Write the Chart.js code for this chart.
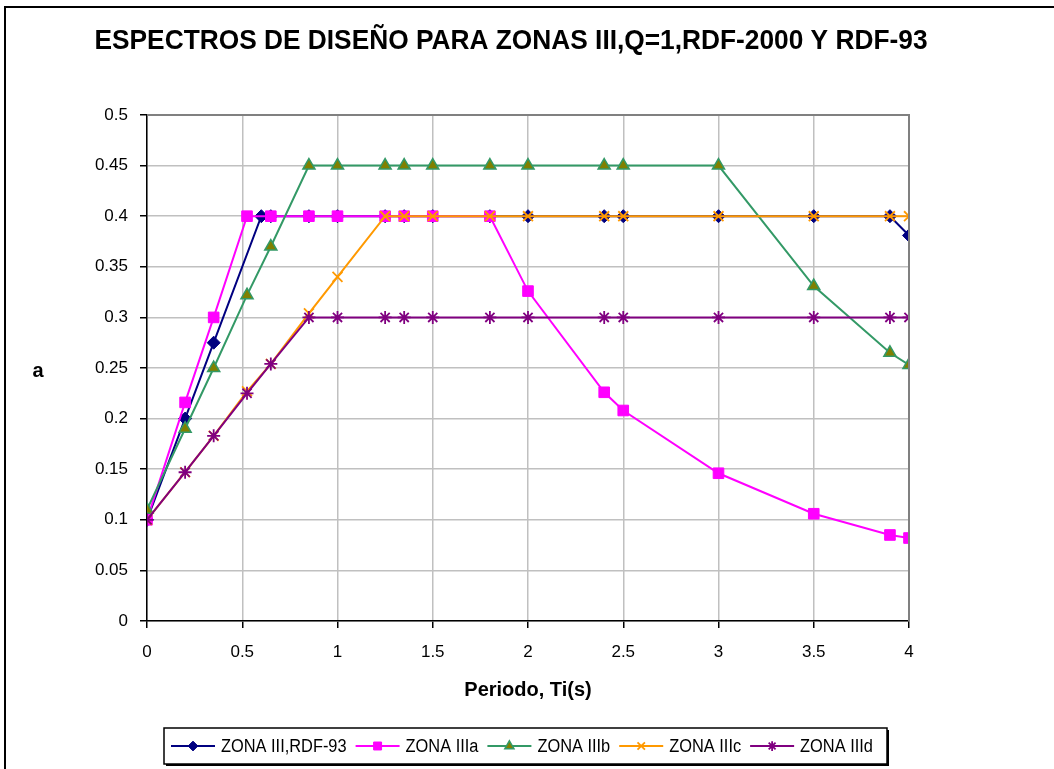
<!DOCTYPE html>
<html>
<head>
<meta charset="utf-8">
<script src="https://cdn.jsdelivr.net/npm/chart.js@4/dist/chart.umd.min.js"></script>
<style>
  html, body { margin: 0; padding: 0; background: #fff; }
  #wrap { width: 1054px; height: 769px; position: relative; }
</style>
</head>
<body>
<div id="wrap"><canvas id="spectra" width="1054" height="769"></canvas></div>
<script>
// Periods (s) and spectral ordinates
const periodsRdf93 = [0, 0.2, 0.35, 0.6, 0.65, 0.85, 1.0, 1.25, 1.35, 1.5, 1.8, 2.0, 2.4, 2.5, 3.0, 3.5, 3.9, 4.0];
const valuesRdf93 = [0.1, 0.2, 0.275, 0.4, 0.4, 0.4, 0.4, 0.4, 0.4, 0.4, 0.4, 0.4, 0.4, 0.4, 0.4, 0.4, 0.4, 0.381];

const periodsZonaA = [0, 0.2, 0.35, 0.525, 0.65, 0.85, 1.0, 1.25, 1.35, 1.5, 1.8, 2.0, 2.4, 2.5, 3.0, 3.5, 3.9, 4.0];
const valuesZonaA = [0.1, 0.216, 0.3, 0.4, 0.4, 0.4, 0.4, 0.4, 0.4, 0.4, 0.4, 0.326, 0.226, 0.208, 0.146, 0.106, 0.085, 0.082];

const periodsZonaB = [0, 0.2, 0.35, 0.525, 0.65, 0.85, 1.0, 1.25, 1.35, 1.5, 1.8, 2.0, 2.4, 2.5, 3.0, 3.5, 3.9, 4.0];
const valuesZonaB = [0.11, 0.19, 0.25, 0.322, 0.37, 0.45, 0.45, 0.45, 0.45, 0.45, 0.45, 0.45, 0.45, 0.45, 0.45, 0.331, 0.265, 0.253];

const periodsZonaC = [0, 0.2, 0.35, 0.525, 0.65, 0.85, 1.0, 1.25, 1.35, 1.5, 1.8, 2.0, 2.4, 2.5, 3.0, 3.5, 3.9, 4.0];
const valuesZonaC = [0.1, 0.147, 0.183, 0.227, 0.254, 0.304, 0.34, 0.4, 0.4, 0.4, 0.4, 0.4, 0.4, 0.4, 0.4, 0.4, 0.4, 0.4];

const periodsZonaD = [0, 0.2, 0.35, 0.525, 0.65, 0.85, 1.0, 1.25, 1.35, 1.5, 1.8, 2.0, 2.4, 2.5, 3.0, 3.5, 3.9, 4.0];
const valuesZonaD = [0.1, 0.147, 0.183, 0.225, 0.254, 0.3, 0.3, 0.3, 0.3, 0.3, 0.3, 0.3, 0.3, 0.3, 0.3, 0.3, 0.3, 0.3];

const seriesLabels = ['ZONA III,RDF-93', 'ZONA IIIa', 'ZONA IIIb', 'ZONA IIIc', 'ZONA IIId'];

const chartTitle = 'ESPECTROS DE DISEÑO PARA ZONAS III,Q=1,RDF-2000 Y RDF-93';
const xTitle = 'Periodo, Ti(s)';
const yTitle = 'a';

function toPoints(xs, ys) {
    return xs.map((x, i) => ({ x: x, y: ys[i] }));
}

// draws text squeezed horizontally, like the stretched Excel export
function squeezedText(ctx, text, x, y, sx) {
    ctx.save();
    ctx.translate(x, y);
    ctx.scale(sx, 1);
    ctx.fillText(text, 0, 0);
    ctx.restore();
}

// Titles, plot frame and outer border (Excel look)
const decorPlugin = {
    id: 'decor',
    beforeDraw(chart) {
        const ctx = chart.ctx;
        ctx.save();
        ctx.fillStyle = '#fff';
        ctx.fillRect(0, 0, chart.width, chart.height);
        ctx.strokeStyle = '#000';
        ctx.lineWidth = 2;
        ctx.beginPath();
        ctx.moveTo(5, chart.height + 5);
        ctx.lineTo(5, 7);
        ctx.lineTo(chart.width + 5, 7);
        ctx.stroke();
        ctx.restore();
    },
    afterDatasetsDraw(chart) {
        const ctx = chart.ctx;
        const a = chart.chartArea;
        ctx.save();
        // top and right frame of the plot area
        ctx.strokeStyle = '#808080';
        ctx.lineWidth = 2;
        ctx.beginPath();
        ctx.moveTo(a.left, a.top);
        ctx.lineTo(a.right, a.top);
        ctx.lineTo(a.right, a.bottom);
        ctx.stroke();

        ctx.fillStyle = '#000';
        ctx.textAlign = 'center';
        ctx.textBaseline = 'middle';
        ctx.font = 'bold 28px "Liberation Sans", Arial, sans-serif';
        const tw = ctx.measureText(chartTitle).width;
        squeezedText(ctx, chartTitle, 511, 41, 833 / tw);

        ctx.font = 'bold 20px "Liberation Sans", Arial, sans-serif';
        ctx.fillText(xTitle, 528, 690);
        ctx.fillText(yTitle, 38, 371);
        ctx.restore();
    }
};

// Legend box: line segment + marker, then the label
const legendPlugin = {
    id: 'excelLegend',
    afterDraw(chart) {
        const ctx = chart.ctx;
        const boxL = 164, boxT = 728, boxR = 887, boxB = 764;
        ctx.save();
        ctx.fillStyle = '#000';
        ctx.fillRect(boxL + 2, boxT + 2, boxR - boxL, boxB - boxT);
        ctx.fillStyle = '#fff';
        ctx.fillRect(boxL, boxT, boxR - boxL, boxB - boxT);
        ctx.strokeStyle = '#000';
        ctx.lineWidth = 1.5;
        ctx.strokeRect(boxL, boxT, boxR - boxL, boxB - boxT);

        ctx.font = '18px "Liberation Sans", Arial, sans-serif';
        ctx.textBaseline = 'middle';
        ctx.textAlign = 'left';
        const sx = 0.91;
        const cy = (boxT + boxB) / 2;
        let x = 171;
        chart.data.datasets.forEach((ds) => {
            ctx.strokeStyle = ds.borderColor;
            ctx.lineWidth = 2;
            ctx.beginPath();
            ctx.moveTo(x, cy);
            ctx.lineTo(x + 44, cy);
            ctx.stroke();
            ctx.fillStyle = ds.pointBackgroundColor;
            ctx.strokeStyle = ds.pointBorderColor;
            ctx.lineWidth = ds.pointBorderWidth;
            Chart.helpers.drawPoint(ctx, {
                pointStyle: ds.pointStyle,
                radius: ds.pointRadius * 0.75,
                rotation: 0,
                borderWidth: ds.pointBorderWidth
            }, x + 22, cy);
            ctx.fillStyle = '#000';
            squeezedText(ctx, ds.label, x + 50, cy + 1, sx);
            x += 50 + ctx.measureText(ds.label).width * sx + 9;
        });
        ctx.restore();
    }
};

function seriesStyle(color, fill, style, radius, bw) {
    return {
        borderColor: color,
        backgroundColor: color,
        borderWidth: 2,
        pointStyle: style,
        pointRadius: radius,
        pointHoverRadius: radius,
        pointBackgroundColor: fill,
        pointBorderColor: color,
        pointBorderWidth: bw,
        tension: 0,
        fill: false
    };
}

function plainNumber(value) {
    return String(Number(value.toFixed(2)));
}

document.addEventListener('DOMContentLoaded', function () {
    const ctx = document.getElementById('spectra').getContext('2d');
    new Chart(ctx, {
        type: 'line',
        data: {
            datasets: [
                Object.assign({ label: seriesLabels[0], data: toPoints(periodsRdf93, valuesRdf93), order: 5 },
                    seriesStyle('#000080', '#000080', 'rectRot', 6.5, 1)),
                Object.assign({ label: seriesLabels[1], data: toPoints(periodsZonaA, valuesZonaA), order: 4 },
                    seriesStyle('#FF00FF', '#FF00FF', 'rect', 7.5, 1)),
                Object.assign({ label: seriesLabels[2], data: toPoints(periodsZonaB, valuesZonaB), order: 3 },
                    seriesStyle('#339966', '#808000', 'triangle', 7, 1.5)),
                Object.assign({ label: seriesLabels[3], data: toPoints(periodsZonaC, valuesZonaC), order: 2 },
                    seriesStyle('#FF9900', '#FF9900', 'crossRot', 7, 1.8)),
                Object.assign({ label: seriesLabels[4], data: toPoints(periodsZonaD, valuesZonaD), order: 1 },
                    seriesStyle('#800080', '#800080', 'star', 6.5, 1.8))
            ]
        },
        options: {
            responsive: false,
            maintainAspectRatio: false,
            animation: false,
            layout: {
                padding: { left: 0, right: 145, top: 115, bottom: 0 }
            },
            scales: {
                x: {
                    type: 'linear',
                    min: 0,
                    max: 4,
                    afterFit: (scale) => { scale.height = 148; },
                    ticks: {
                        stepSize: 0.5,
                        color: '#000',
                        padding: 14,
                        maxRotation: 0,
                        callback: plainNumber,
                        font: { family: '"Liberation Sans", Arial, sans-serif', size: 17 }
                    },
                    grid: {
                        color: '#c0c0c0',
                        lineWidth: 1.5,
                        tickColor: '#000',
                        tickLength: 7,
                        tickWidth: 1.5
                    },
                    border: { color: '#000', width: 1.5 }
                },
                y: {
                    min: 0,
                    max: 0.5,
                    afterFit: (scale) => { scale.width = 147; },
                    ticks: {
                        stepSize: 0.05,
                        color: '#000',
                        padding: 12,
                        callback: plainNumber,
                        font: { family: '"Liberation Sans", Arial, sans-serif', size: 17 }
                    },
                    grid: {
                        color: '#c0c0c0',
                        lineWidth: 1.5,
                        tickColor: '#000',
                        tickLength: 7,
                        tickWidth: 1.5
                    },
                    border: { color: '#000', width: 1.5 }
                }
            },
            plugins: {
                legend: { display: false },
                title: { display: false },
                tooltip: { enabled: false }
            }
        },
        plugins: [decorPlugin, legendPlugin]
    });
});
</script>
</body>
</html>
